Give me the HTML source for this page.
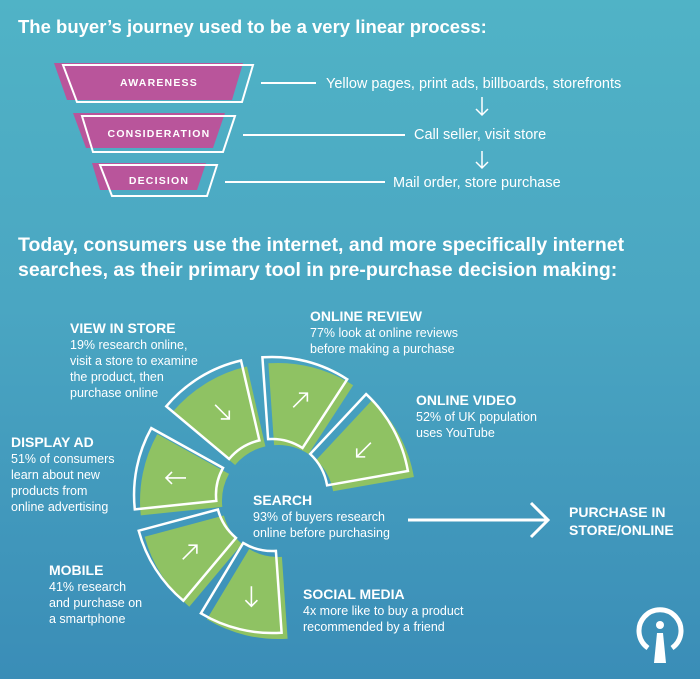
<!DOCTYPE html>
<html><head><meta charset="utf-8"><style>
html,body{margin:0;padding:0}
body{width:700px;height:679px;overflow:hidden;background:linear-gradient(180deg,#50b3c6 0%,#4aa6c2 45%,#3a8db7 100%);font-family:"Liberation Sans",sans-serif;color:#fff}
svg{display:block}
text{font-family:"Liberation Sans",sans-serif;fill:#fff}
.h{font-weight:bold;font-size:19.5px}
.lb{font-weight:bold;font-size:14px}
.d{font-size:12.5px}
.f{font-weight:bold;font-size:10.5px;letter-spacing:1.2px}
.t{font-size:14.5px}
</style></head><body>
<svg id="s" width="700" height="679" viewBox="0 0 700 679">
<text x="18" y="33" class="h" style="font-size:18.5px">The buyer’s journey used to be a very linear process:</text>
<polygon points="54,63 243,63 232,100 67,100" fill="#b9559b"/>
<polygon points="63,65 253,65 242,102 77,102" fill="none" stroke="#fff" stroke-width="2"/>
<text x="159" y="86" class="f" text-anchor="middle">AWARENESS</text>
<polygon points="73,113 225,113 213,148 86,148" fill="#b9559b"/>
<polygon points="82,116 235,116 223,152 93,152" fill="none" stroke="#fff" stroke-width="2"/>
<text x="159" y="137" class="f" text-anchor="middle">CONSIDERATION</text>
<polygon points="92,163 206,163 197,190 100,190" fill="#b9559b"/>
<polygon points="100,165 217,165 207,196 112,196" fill="none" stroke="#fff" stroke-width="2"/>
<text x="159" y="184" class="f" text-anchor="middle">DECISION</text>
<g stroke="#fff" stroke-width="2"><line x1="261" y1="83" x2="316" y2="83"/><line x1="243" y1="135" x2="405" y2="135"/><line x1="225" y1="182" x2="385" y2="182"/></g>
<text x="326" y="88" class="t">Yellow pages, print ads, billboards, storefronts</text>
<text x="414" y="139" class="t">Call seller, visit store</text>
<text x="393" y="187" class="t">Mail order, store purchase</text>
<g stroke="#fff" stroke-width="1.5" fill="none"><path d="M482 97V115M476 109L482 115L488 109"/><path d="M482 151V168M476 162L482 168L488 162"/></g>
<text x="18" y="251" class="h">Today, consumers use the internet, and more specifically internet</text>
<text x="18" y="276" class="h">searches, as their primary tool in pre-purchase decision making:</text>
<g id="ring"></g>
<text x="70" y="333" class="lb">VIEW IN STORE</text>
<text class="d"><tspan x="70" y="349">19% research online,</tspan><tspan x="70" y="365">visit a store to examine</tspan><tspan x="70" y="381">the product, then</tspan><tspan x="70" y="397">purchase online</tspan></text>
<text x="310" y="321" class="lb">ONLINE REVIEW</text>
<text class="d"><tspan x="310" y="337">77% look at online reviews</tspan><tspan x="310" y="353">before making a purchase</tspan></text>
<text x="416" y="405" class="lb">ONLINE VIDEO</text>
<text class="d"><tspan x="416" y="421">52% of UK population</tspan><tspan x="416" y="437">uses YouTube</tspan></text>
<text x="11" y="447" class="lb">DISPLAY AD</text>
<text class="d"><tspan x="11" y="463">51% of consumers</tspan><tspan x="11" y="479">learn about new</tspan><tspan x="11" y="495">products from</tspan><tspan x="11" y="511">online advertising</tspan></text>
<text x="253" y="505" class="lb">SEARCH</text>
<text class="d"><tspan x="253" y="521">93% of buyers research</tspan><tspan x="253" y="537">online before purchasing</tspan></text>
<text x="49" y="575" class="lb">MOBILE</text>
<text class="d"><tspan x="49" y="591">41% research</tspan><tspan x="49" y="607">and purchase on</tspan><tspan x="49" y="623">a smartphone</tspan></text>
<text x="303" y="599" class="lb">SOCIAL MEDIA</text>
<text class="d"><tspan x="303" y="615">4x more like to buy a product</tspan><tspan x="303" y="631">recommended by a friend</tspan></text>
<text x="569" y="517" class="lb">PURCHASE IN</text>
<text x="569" y="535" class="lb">STORE/ONLINE</text>
<g stroke="#fff" stroke-width="3" fill="none"><line x1="408" y1="520" x2="548" y2="520"/><path d="M531 503L548 520L531 537"/></g>
<path d="M648 648A21 21 0 1 1 672 648" fill="none" stroke="#fff" stroke-width="5"/>
<circle cx="660" cy="625" r="4" fill="#fff"/>
<polygon points="657,633 663,633 666,663 654,663" fill="#fff"/>
</svg>
<script>
(function(){
var cx=272,cy=495,R=138,r=56,g=document.getElementById('ring');
function P(a,rad,ox,oy){a=a*Math.PI/180;return [(cx+ox+rad*Math.cos(a)).toFixed(1),(cy+oy+rad*Math.sin(a)).toFixed(1)];}
function sec(a1,a2,ox,oy){var p1=P(a1,R,ox,oy),p2=P(a2,R,ox,oy),p3=P(a2,r,ox,oy),p4=P(a1,r,ox,oy);
return 'M'+p1+' A'+R+' '+R+' 0 0 1 '+p2+' L'+p3+' A'+r+' '+r+' 0 0 0 '+p4+' Z';}
var segs=[[-47,-10,135],[-94,-57,-45],[-140,-103,45],[174,209,180],[130,165,-45],[86,121,90]];
var h='';
segs.forEach(function(s){h+='<path d="'+sec(s[0],s[1],6,6)+'" fill="#8fc263"/>';});
segs.forEach(function(s){h+='<path d="'+sec(s[0],s[1],0,0)+'" fill="none" stroke="#fff" stroke-width="2.5"/>';
var m=(s[0]+s[1])/2,c=P(m,(R+r)/2+4,3,3),ang=s[2];
h+='<g transform="translate('+c[0]+','+c[1]+') rotate('+ang+')" stroke="#fff" stroke-width="1.6" fill="none"><path d="M-10 0H10M4 -6L10 0L4 6"/></g>';});
g.innerHTML=h;
})();
</script>
</body></html>
